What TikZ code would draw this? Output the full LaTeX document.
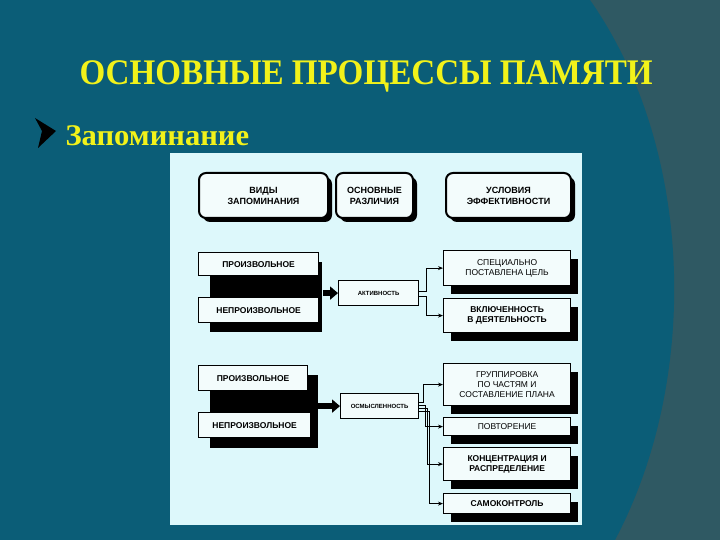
\documentclass[tikz,border=0pt]{standalone}
\usepackage{fontspec}
\setmainfont{Liberation Serif}
\setsansfont{Liberation Sans}
\usetikzlibrary{shadows,arrows.meta}
\definecolor{bgout}{HTML}{2F5963}
\definecolor{bgin}{HTML}{0B5D77}
\definecolor{panel}{HTML}{DDF8FB}
\definecolor{boxfill}{HTML}{F3FCFC}
\definecolor{ttl}{HTML}{F2F21A}
\begin{document}
\begin{tikzpicture}[x=1pt,y=-1pt,
  box/.style={draw=black,line width=1.2pt,fill=boxfill,anchor=north west,inner sep=1pt,align=center,
     font=\sffamily\bfseries\fontsize{8.5}{10}\selectfont},
  sbox/.style={box,drop shadow={shadow xshift=7pt,shadow yshift=-8pt,fill=black,opacity=1}},
  hbox/.style={box,rounded corners=7pt,line width=2pt,font=\sffamily\bfseries\fontsize{9}{11}\selectfont,
     drop shadow={shadow xshift=4pt,shadow yshift=-4pt,fill=black,opacity=1}},
  arr/.style={-{Stealth[length=5pt,width=4pt]},line width=1pt},
  fat/.style={-{Triangle[length=8pt,width=13pt]},line width=6pt}]
\useasboundingbox (0,0) rectangle (720,540);
\fill[bgout] (0,0) rectangle (720,540);
\fill[bgin] (0,0) -- (590,0) .. controls (695,150) and (700,380) .. (615,540) -- (0,540) -- cycle;
\node[anchor=west,text=ttl,font=\bfseries\fontsize{36}{40}\selectfont] (title) at (76,76) {\scalebox{0.92}[1]{ОСНОВНЫЕ ПРОЦЕССЫ ПАМЯТИ}};
\fill[black] (35,118) -- (56,131) -- (38,148) -- (42,131) -- cycle;
\node[anchor=west,text=ttl,font=\bfseries\fontsize{30}{34}\selectfont] (sub) at (62,136) {\scalebox{1.02}[1]{Запоминание}};
\fill[panel] (170,153) rectangle (582,525);
% headers
\node[hbox,minimum width=129pt,minimum height=45pt] (h1) at (198,172) {ВИДЫ\\ЗАПОМИНАНИЯ};
\node[hbox,minimum width=77pt,minimum height=45pt] (h2) at (335,172) {ОСНОВНЫЕ\\РАЗЛИЧИЯ};
\node[hbox,minimum width=125pt,minimum height=45pt] (h3) at (445,172) {УСЛОВИЯ\\ЭФФЕКТИВНОСТИ};
% group 1
\fill[black] (210,262) rectangle (322,332);
\node[box,minimum width=120pt,minimum height=23pt] (p1) at (198,252) {ПРОИЗВОЛЬНОЕ};
\node[box,minimum width=120pt,minimum height=25pt] (n1) at (198,297) {НЕПРОИЗВОЛЬНОЕ};
\node[box,minimum width=80pt,minimum height=25pt,font=\sffamily\bfseries\fontsize{6}{7}\selectfont] (akt) at (338,280) {АКТИВНОСТЬ};
\node[sbox,minimum width=127pt,minimum height=35pt,font=\sffamily\fontsize{8.5}{10}\selectfont] (s1) at (443,250) {СПЕЦИАЛЬНО\\ПОСТАВЛЕНА ЦЕЛЬ};
\node[sbox,minimum width=127pt,minimum height=34pt] (s2) at (443,298) {ВКЛЮЧЕННОСТЬ\\В ДЕЯТЕЛЬНОСТЬ};
\draw[fat] ([xshift=4pt]p1.east |- akt.west) -- (akt.west);
\draw[arr] ([yshift=2pt]akt.east) -- ++(7,0) |- (s1.west);
\draw[arr] ([yshift=-3pt]akt.east) -- ++(7,0) |- (s2.west);
% group 2
\fill[black] (210,375) rectangle (318,448);
\node[box,minimum width=109pt,minimum height=25pt] (p2) at (198,365) {ПРОИЗВОЛЬНОЕ};
\node[box,minimum width=112pt,minimum height=25pt] (n2) at (198,412) {НЕПРОИЗВОЛЬНОЕ};
\node[box,minimum width=78pt,minimum height=25pt,font=\sffamily\bfseries\fontsize{6}{7}\selectfont] (osm) at (340,393) {ОСМЫСЛЕННОСТЬ};
\node[sbox,minimum width=127pt,minimum height=42pt,font=\sffamily\fontsize{8.5}{10}\selectfont] (g1) at (443,363) {ГРУППИРОВКА\\ПО ЧАСТЯМ И\\СОСТАВЛЕНИЕ ПЛАНА};
\node[sbox,minimum width=127pt,minimum height=18pt,font=\sffamily\fontsize{8.5}{10}\selectfont] (g2) at (443,417) {ПОВТОРЕНИЕ};
\node[sbox,minimum width=127pt,minimum height=33pt] (g3) at (443,447) {КОНЦЕНТРАЦИЯ И\\РАСПРЕДЕЛЕНИЕ};
\node[sbox,minimum width=127pt,minimum height=20pt] (g4) at (443,493) {САМОКОНТРОЛЬ};
\draw[fat] ([xshift=6pt]n2.east |- osm.west) -- (osm.west);
\draw[arr] ([yshift=4pt]osm.east) -- ++(4,0) |- (g1.west);
\draw[arr] ([yshift=1pt]osm.east) -- ++(6,0) |- (g2.west);
\draw[arr] ([yshift=-2pt]osm.east) -- ++(8,0) |- (g3.west);
\draw[arr] ([yshift=-5pt]osm.east) -- ++(10,0) |- (g4.west);
\end{tikzpicture}
\end{document}
